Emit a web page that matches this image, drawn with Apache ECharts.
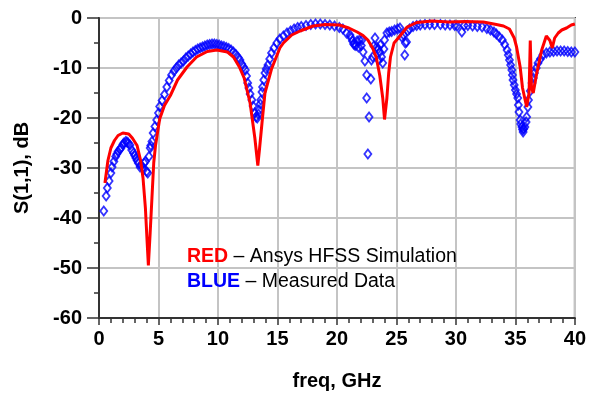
<!DOCTYPE html>
<html>
<head>
<meta charset="utf-8">
<script src="https://cdn.jsdelivr.net/npm/echarts@6/dist/echarts.min.js"></script>
<style>
html,body{margin:0;padding:0;background:#fff;}
#chart{width:589px;height:401px;}
</style>
</head>
<body>
<div id="chart"></div>
<script>
// Axis ticks
var xTicks = [0, 5, 10, 15, 20, 25, 30, 35, 40];
var yTicks = [-60, -50, -40, -30, -20, -10, 0];

// RED: Ansys HFSS simulation  [freq GHz, S11 dB]
var simulated = [
[0.5,-33],[0.75,-28.5],[1.0,-26],[1.3,-24.5],[1.6,-23.5],[2.0,-23],[2.5,-23.2],[2.8,-24],[3.2,-25.5],
[3.5,-28.5],[3.7,-32],[3.9,-38],[4.05,-45],[4.15,-49.5],[4.3,-43],[4.45,-36],[4.6,-29],[4.75,-25.5],
[5.1,-20.2],[5.5,-17.5],[6.0,-15.5],[6.6,-12.4],[7.4,-9.8],[8.2,-7.8],[9.1,-6.7],[9.9,-6.4],[10.8,-6.8],
[11.3,-7.8],[11.8,-9.8],[12.2,-12],[12.7,-17],[13.1,-24],[13.35,-29.5],[13.5,-26],[13.7,-21],[13.95,-15],
[14.5,-10.2],[15.2,-6],[15.5,-5],[16.2,-3.4],[16.9,-2.6],[18,-1.6],[19,-1.3],[20.2,-1.4],[21,-2],
[21.7,-2.8],[22.2,-3.5],[22.6,-4.4],[23,-6],[23.3,-7.8],[23.6,-11.5],[23.85,-16],[24.0,-20.3],[24.2,-16],
[24.35,-11],[24.5,-7.8],[24.8,-5],[25.3,-3.6],[25.9,-1.8],[26.7,-0.9],[28,-0.6],[29.4,-0.8],[30.8,-0.7],
[32.3,-0.8],[33.4,-1.3],[34.0,-1.6],[34.5,-2.2],[34.9,-4],[35.1,-5.8],[35.4,-9.8],[35.6,-14],[35.95,-17.8],
[36.15,-15],[36.25,-4.5],[36.35,-14],[36.5,-15],[36.8,-11],[37.2,-6.5],[37.6,-3.6],[37.75,-3.4],[37.9,-4.5],
[38.1,-6],[38.3,-4],[38.6,-3],[38.9,-2.4],[39.3,-2],[39.7,-1.4],[40,-1.2]
];

// BLUE: measured data  [freq GHz, S11 dB]
var measured = [
[0.4,-38.6],[0.6,-35.6],[0.7,-34],[0.85,-32.6],[1.0,-31],[1.1,-29.8],[1.25,-28.7],[1.4,-27.7],[1.5,-27.2],
[1.6,-26.7],[1.75,-26.3],[1.85,-26],[2.0,-25.3],[2.1,-25],[2.25,-24.7],[2.35,-24.8],[2.45,-25],[2.6,-25.4],
[2.75,-26.4],[2.9,-27],[3.0,-27.5],[3.1,-28],[3.2,-28.5],[3.3,-29],[3.45,-29.8],[3.55,-29.5],[3.7,-30],
[3.8,-29],[3.9,-28.7],[4.0,-30.7],[4.1,-31],[4.2,-27.7],[4.3,-26],[4.35,-25.5],[4.45,-24.7],[4.55,-23],
[4.7,-21.7],[4.85,-20.4],[5.0,-19],[5.1,-17.7],[5.3,-16.5],
[5.5,-15.3],[5.7,-13.8],[5.9,-12.5],[6.1,-11.4],[6.3,-10.6],[6.5,-10],[6.7,-9.4],[6.9,-9],[7.1,-8.6],
[7.3,-8],[7.5,-7.6],[7.7,-7.2],[7.9,-6.8],[8.1,-6.5],[8.3,-6.2],[8.5,-6],[8.7,-5.8],[8.9,-5.6],[9.1,-5.4],
[9.3,-5.3],[9.5,-5.2],[9.7,-5.2],[9.9,-5.3],[10.1,-5.4],[10.3,-5.6],[10.5,-5.7],[10.7,-5.9],[10.9,-6.1],
[11.1,-6.4],[11.3,-6.8],[11.5,-7.3],[11.7,-7.9],[11.85,-8.4],[12.0,-9.2],[12.15,-9.8],[12.3,-10.4],
[12.4,-11.6],[12.5,-13],[12.6,-14],[12.7,-15.2],[12.85,-16.4],[12.95,-17.6],[13.1,-19],[13.2,-19.8],
[13.3,-20],[13.4,-19.2],[13.45,-18.4],[13.55,-17.2],[13.6,-16.4],[13.7,-14.8],[13.75,-13.8],[13.85,-12.4],
[13.95,-11],[14.05,-10.2],[14.2,-9.4],[14.35,-8.2],[14.5,-7],[14.7,-6],[14.95,-5],[15.2,-4.2],[15.5,-3.6],
[15.8,-3],[16.1,-2.6],[16.4,-2.2],[16.7,-1.9],[17.0,-1.7],[17.4,-1.5],[17.8,-1.3],[18.2,-1.2],[18.6,-1.2],
[19.0,-1.3],[19.4,-1.4],[19.8,-1.6],[20.2,-1.9],[20.5,-2.2],[20.8,-3],[21.1,-3.4],[21.2,-4],[21.3,-4.6],
[21.4,-5.2],[21.5,-5.4],[21.6,-5.5],[21.7,-4.6],[21.8,-5.8],[21.9,-4.4],[22.05,-5.5],[22.1,-4.4],[22.2,-6.8],
[22.35,-8.6],[22.5,-11.4],[22.5,-16],[22.6,-27.2],[22.7,-19.8],[22.85,-12.2],[22.9,-8.4],[23.0,-7.8],
[23.1,-5.6],[23.2,-4],[23.35,-5.8],[23.45,-6.2],[23.5,-8.4],[23.6,-6.8],[23.65,-5.4],[23.75,-7.8],
[23.85,-9],[23.95,-6.2],[24.0,-4.4],[24.2,-3],[24.4,-2.8],[24.6,-2.7],[24.85,-2.4],[25.1,-2.2],[25.3,-2],
[25.45,-3.8],[25.6,-3.4],[25.7,-7.4],[25.75,-5],[25.85,-4.8],[25.95,-2.6],[26.1,-2.2],[26.4,-1.7],
[26.7,-1.5],[27.0,-1.4],[27.4,-1.3],[27.8,-1.3],[28.2,-1.3],[28.7,-1.3],[29.1,-1.4],[29.5,-1.4],[29.9,-1.5],
[30.1,-1.6],[30.5,-2.8],[30.7,-1.5],[31.0,-1.5],[31.4,-1.6],[31.8,-1.7],[32.2,-1.8],[32.6,-2.1],[32.9,-2.4],
[33.2,-2.8],[33.4,-3.2],[33.65,-3.8],[33.9,-4.4],[34.1,-5.3],[34.3,-6.4],[34.4,-7.4],[34.5,-8.4],[34.6,-9.4],
[34.7,-10.4],[34.75,-11.4],[34.8,-12.4],[34.9,-13.4],[35.0,-14.4],[35.1,-15.2],[35.2,-16],[35.25,-17.4],
[35.3,-18.8],[35.4,-20.4],[35.45,-21.2],[35.55,-21.8],[35.6,-22.3],[35.65,-22.8],[35.7,-22.2],[35.8,-21.8],
[35.9,-20.8],[35.95,-19.8],[36.05,-17.8],[36.1,-16.4],[36.25,-14.6],[36.4,-13],[36.5,-12],[36.6,-11],
[36.75,-10],[36.9,-9],[37.1,-8.2],[37.3,-7.4],[37.6,-7],[37.9,-6.8],[38.2,-6.7],[38.5,-6.6],[38.8,-6.6],
[39.1,-6.6],[39.4,-6.7],[39.7,-6.8],[40,-6.8]
];

var FONT = '"Liberation Sans", Arial, sans-serif';
var chart = echarts.init(document.getElementById('chart'), null, {renderer: 'canvas'});
chart.setOption({
  animation: false,
  backgroundColor: '#ffffff',
  grid: {left: 99, right: 14, top: 18, bottom: 83, show: true, borderColor: '#333', borderWidth: 2, backgroundColor: 'transparent'},
  xAxis: {
    type: 'value', min: xTicks[0], max: xTicks[xTicks.length - 1], interval: 5,
    name: 'freq, GHz', nameLocation: 'middle', nameGap: 53,
    nameTextStyle: {fontFamily: FONT, fontWeight: 'bold', fontSize: 20, color: '#000'},
    axisLine: {onZero: false, lineStyle: {color: '#333', width: 2}},
    axisTick: {show: true, length: 7, lineStyle: {color: '#333', width: 1.5}},
    minorTick: {show: true, splitNumber: 5, length: 5, lineStyle: {color: '#333', width: 1.5}},
    splitLine: {show: true, lineStyle: {color: '#c4c4c4', width: 2}},
    axisLabel: {fontFamily: FONT, fontWeight: 'bold', fontSize: 20, color: '#000', margin: 11}
  },
  yAxis: {
    type: 'value', min: yTicks[0], max: yTicks[yTicks.length - 1], interval: 10,
    name: 'S(1,1), dB', nameLocation: 'middle', nameGap: 67, nameRotate: 90,
    nameTextStyle: {fontFamily: FONT, fontWeight: 'bold', fontSize: 20, color: '#000'},
    axisLine: {onZero: false, lineStyle: {color: '#333', width: 2}},
    axisTick: {show: true, length: 12, lineStyle: {color: '#333', width: 1.5}},
    minorTick: {show: true, splitNumber: 2, length: 5, lineStyle: {color: '#333', width: 1.5}},
    splitLine: {show: true, lineStyle: {color: '#c4c4c4', width: 2}},
    axisLabel: {fontFamily: FONT, fontWeight: 'bold', fontSize: 20, color: '#000', margin: 17}
  },
  graphic: [
    {type: 'text', left: 187, top: 247, z: 100, style: {
      text: '{r|RED} – Ansys HFSS Simulation', fontFamily: FONT, fontSize: 19.5, fill: '#000',
      rich: {r: {fontFamily: FONT, fontSize: 19.5, fontWeight: 'bold', fill: '#ff0000', color: '#ff0000'}}
    }},
    {type: 'text', left: 187, top: 272, z: 100, style: {
      text: '{b|BLUE} – Measured Data', fontFamily: FONT, fontSize: 19.5, fill: '#000',
      rich: {b: {fontFamily: FONT, fontSize: 19.5, fontWeight: 'bold', fill: '#0000ff', color: '#0000ff'}}
    }}
  ],
  series: [
    {
      name: 'Measured', type: 'scatter', data: measured, z: 2,
      symbol: 'diamond', symbolSize: [7, 9],
      itemStyle: {color: 'rgba(255,255,255,0)', borderColor: '#0000ff', borderWidth: 1.8}
    },
    {
      name: 'Simulated', type: 'line', data: simulated, z: 3,
      showSymbol: false, symbol: 'none', smooth: false,
      lineStyle: {color: '#ff0000', width: 3}
    }
  ]
});
</script>
</body>
</html>
